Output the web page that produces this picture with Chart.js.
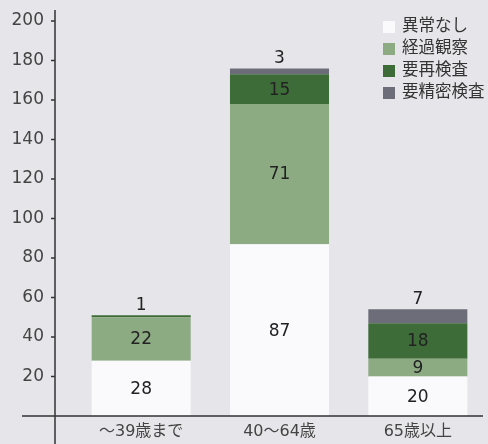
<!DOCTYPE html>
<html>
<head>
<meta charset="utf-8">
<script src="https://cdn.jsdelivr.net/npm/chart.js@4.4.1/dist/chart.umd.min.js"></script>
<style>
  html, body { margin: 0; padding: 0; background: #e6e6ea; }
  #wrap { width: 488px; height: 444px; }
</style>
</head>
<body>
<div id="wrap"><canvas id="bar-chart" width="488" height="444"></canvas></div>
<script>
var categories = ["〜39歳まで", "40〜64歳", "65歳以上"];
var normal   = [28, 87, 20];   // 異常なし
var observe  = [22, 71, 9];    // 経過観察
var recheck  = [1, 15, 18];    // 要再検査
var detailed = [0, 3, 7];      // 要精密検査
var yTicks = [20, 40, 60, 80, 100, 120, 140, 160, 180, 200];

var FONT = "'DejaVu Sans', 'Noto Sans CJK JP', sans-serif";

// axis lines drawn left of the plot, like the print
var axisLines = {
  id: 'axisLines',
  afterDraw: function(chart) {
    var ctx = chart.ctx, y = chart.scales.y;
    var x0 = chart.chartArea.left - 17;
    var y0 = y.getPixelForValue(0);
    ctx.save();
    ctx.strokeStyle = '#333';
    ctx.lineWidth = 1.5;
    ctx.beginPath();
    ctx.moveTo(x0, 10); ctx.lineTo(x0, 444);
    ctx.moveTo(22, y0); ctx.lineTo(483, y0);
    yTicks.forEach(function(v) {
      var py = y.getPixelForValue(v);
      ctx.moveTo(x0 - 4, py); ctx.lineTo(x0, py);
    });
    ctx.stroke();
    ctx.restore();
  }
};

// values written on the segments
var valueLabels = {
  id: 'valueLabels',
  afterDatasetsDraw: function(chart) {
    var ctx = chart.ctx;
    ctx.save();
    ctx.font = '17px ' + FONT;
    ctx.fillStyle = '#222';
    ctx.textAlign = 'center';
    ctx.textBaseline = 'middle';
    chart.data.datasets.forEach(function(ds, i) {
      chart.getDatasetMeta(i).data.forEach(function(el, j) {
        var v = ds.data[j];
        if (!v) return;
        if (v < 8) ctx.fillText(v, el.x, el.y - 10);
        else ctx.fillText(v, el.x, (el.y + el.base) / 2 + 1);
      });
    });
    ctx.restore();
  }
};

// legend box top right
var boxLegend = {
  id: 'boxLegend',
  afterDraw: function(chart) {
    var ctx = chart.ctx;
    ctx.save();
    ctx.font = '16.5px ' + FONT;
    ctx.textBaseline = 'middle';
    chart.data.datasets.forEach(function(ds, i) {
      var cy = 27 + i * 22;
      ctx.fillStyle = ds.backgroundColor;
      ctx.fillRect(383, cy - 6, 12, 12);
      ctx.fillStyle = '#333';
      ctx.fillText(ds.label, 402, cy);
    });
    ctx.restore();
  }
};

new Chart(document.getElementById("bar-chart"), {
  type: 'bar',
  data: {
    labels: categories,
    datasets: [
      { label: "異常なし", data: normal, backgroundColor: "#fafafc" },
      { label: "経過観察", data: observe, backgroundColor: "#8dab83" },
      { label: "要再検査", data: recheck, backgroundColor: "#3d6c39" },
      { label: "要精密検査", data: detailed, backgroundColor: "#6d6d7a" }
    ]
  },
  options: {
    responsive: false,
    animation: false,
    layout: { padding: { top: 21, right: 1, left: 0, bottom: 0 } },
    datasets: { bar: { categoryPercentage: 1, barPercentage: 0.716 } },
    plugins: { legend: { display: false }, tooltip: { enabled: false } },
    scales: {
      x: {
        stacked: true,
        grid: { display: false, drawTicks: false },
        border: { display: false },
        ticks: { color: '#444', font: { size: 16, family: FONT }, padding: 6 },
        afterFit: function(s) {
          s.height = 28;
          s.paddingLeft = 0; s.paddingRight = 0;
        }
      },
      y: {
        stacked: true,
        min: 0, max: 200,
        grid: { display: false, drawTicks: false },
        border: { display: false },
        ticks: {
          stepSize: 20, color: '#444', padding: 28,
          font: { size: 17, family: FONT },
          callback: function(v) { return v === 0 ? '' : v; }
        },
        afterFit: function(s) {
          s.width = 72;
          s.paddingTop = 0; s.paddingBottom = 0;
        }
      }
    }
  },
  plugins: [axisLines, valueLabels, boxLegend]
});
</script>
</body>
</html>
